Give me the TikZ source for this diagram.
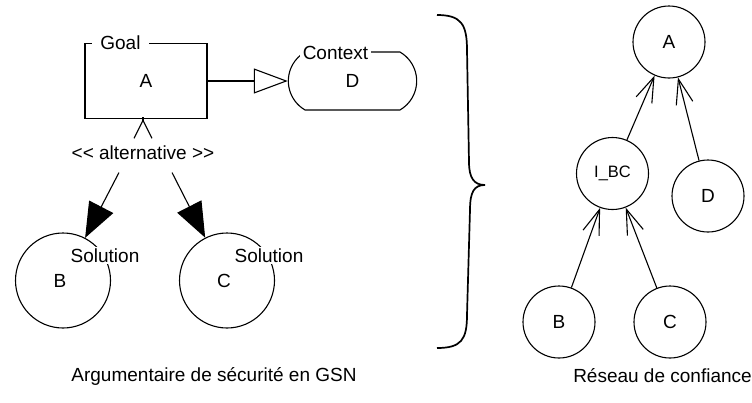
\documentclass[tikz,border=0pt]{standalone}
\usepackage{fontspec}
\setmainfont{Liberation Sans}
\usetikzlibrary{arrows.meta,positioning,shapes.misc}

\begin{document}
\begin{tikzpicture}[x=1pt,y=-1pt,line width=1.1pt,
  font=\fontsize{19}{22}\selectfont,
  goalbox/.style={draw,minimum width=122pt,minimum height=75pt},
  ctxbox/.style={draw,rounded rectangle,rounded rectangle arc length=120,
    minimum width=135pt,minimum height=58pt},
  solnode/.style={draw,circle,minimum size=95pt,inner sep=0pt},
  trustnode/.style={draw,circle,minimum size=72pt,inner sep=0pt},
  tag/.style={fill=white,inner xsep=3pt,inner ysep=2pt},
  supports/.style={-{Triangle[length=35pt,width=27pt]}},
  incontext/.style={-{Triangle[open,length=34pt,width=25pt,fill=white]}},
  altedge/.style={-{Straight Barb[length=18pt,width=18pt]},shorten <=16pt},
  trustedge/.style={-{Straight Barb[length=25pt,width=17pt]}}]
\useasboundingbox (0,0) rectangle (752,402);

% argumentaire GSN
\node[goalbox] (goal) at (146,81) {A};
\node[tag,inner xsep=8pt] (goaltag) at ([xshift=36pt]goal.north west) {Goal};
\node[ctxbox] (ctx) at (352.5,81) {D};
\node[tag] (ctxtag) at ([xshift=-17pt,yshift=-2pt]ctx.north) {Context};
\draw[incontext] (goal.east) -- (ctx.west);

\node[inner ysep=12pt] (alt) at (143,153) {<{}< alternative >{}>};
\draw[altedge] (alt.north) -- (alt.north |- goal.south);

\node[solnode] (solB) at (63,280.5) {\hspace{-6pt}B};
\node[tag] (solBtag) at ([xshift=42pt,yshift=25pt]solB.center) {Solution};
\node[solnode] (solC) at (227,280.5) {\hspace{-6pt}C};
\node[tag] (solCtag) at ([xshift=42pt,yshift=25pt]solC.center) {Solution};
\draw[supports] ([xshift=-24pt]alt.south) -- (solB);
\draw[supports] ([xshift=29pt]alt.south) -- (solC);

\node (gsncap) at (214,376) {Argumentaire de sécurité en GSN};

% accolade
\draw[line width=1.7pt] (437,15) .. controls (461,15) and (467,24) .. (467,50)
  -- (469,162) .. controls (469,178) and (474,185) .. (485,185)
  .. controls (474,185) and (470,192) .. (470,210)
  -- (467,315) .. controls (467,340) and (461,348) .. (437,348);

% reseau de confiance
\node[trustnode] (trA) at (669,42) {A};
\node[trustnode,font=\fontsize{16.5}{19}\selectfont] (trIBC) at (612.5,173.5) {I\_BC};
\node[trustnode] (trD) at (708,196) {D};
\node[trustnode] (trB) at (559,322) {B};
\node[trustnode] (trC) at (670,322) {C};
\draw[trustedge] (trIBC) -- (trA);
\draw[trustedge] (trD) -- (trA);
\draw[trustedge] (trB) -- (trIBC);
\draw[trustedge] (trC) -- (trIBC);

\node (trustcap) at (662.5,376) {Réseau de confiance};
\end{tikzpicture}
\end{document}
